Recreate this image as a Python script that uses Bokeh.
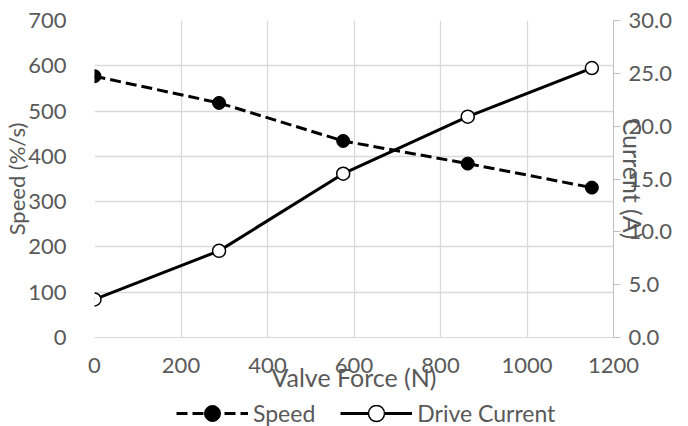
from bokeh.plotting import figure
from bokeh.layouts import column
from bokeh.models import (LinearAxis, Range1d, Legend, LegendItem,
                          FixedTicker, PrintfTickFormatter)
from bokeh.embed import file_html
from bokeh.resources import INLINE

force = [0, 288, 575, 863, 1150]
speed = [577, 518, 434, 384, 331]
current = [3.6, 8.2, 15.5, 20.9, 25.5]
x_ticks = [0, 200, 400, 600, 800, 1000, 1200]
speed_ticks = [0, 100, 200, 300, 400, 500, 600, 700]
current_ticks = [0, 5, 10, 15, 20, 25, 30]

FONT = "Lato"
GREY = "#595959"
GRID = "#d9d9d9"
TICK_SIZE = "22px"
TITLE_SIZE = "25px"
DASH = "11 5"

xr = Range1d(0, 1200)
p = figure(width=672, height=405, x_range=xr, y_range=Range1d(0, 700),
           output_backend="svg", toolbar_location=None,
           min_border_left=85, min_border_right=59, min_border_top=20, min_border_bottom=68)
p.outline_line_color = None
p.extra_y_ranges = {"cur": Range1d(0, 30)}

xa = p.xaxis[0]
xa.ticker = FixedTicker(ticks=x_ticks)
xa.axis_label = "Valve Force (N)"
xa.axis_line_color = GRID
xa.major_tick_line_color = None
xa.minor_tick_line_color = None
xa.major_label_standoff = 14
xa.axis_label_standoff = -14

ya = p.yaxis[0]
ya.ticker = FixedTicker(ticks=speed_ticks)
ya.axis_label = "Speed (%/s)"
ya.axis_line_color = None
ya.major_tick_line_color = None
ya.minor_tick_line_color = None
ya.major_label_standoff = 22
ya.axis_label_standoff = -5

ra = LinearAxis(y_range_name="cur", ticker=FixedTicker(ticks=current_ticks),
                formatter=PrintfTickFormatter(format="%.1f"))
ra.axis_label = "Current (A)"
ra.axis_line_color = "#bfbfbf"
ra.major_tick_line_color = "#bfbfbf"
ra.major_tick_out = 7
ra.major_tick_in = 0
ra.minor_tick_line_color = None
ra.major_label_standoff = 8
ra.axis_label_standoff = -57
p.add_layout(ra, "right")

for ax in (xa, ya, ra):
    ax.major_label_text_font = FONT
    ax.major_label_text_font_size = TICK_SIZE
    ax.major_label_text_color = GREY
    ax.axis_label_text_font = FONT
    ax.axis_label_text_font_size = TITLE_SIZE
    ax.axis_label_text_font_style = "normal"
    ax.axis_label_text_color = GREY
ya.axis_label_text_font_size = "22px"

p.xgrid.ticker = FixedTicker(ticks=x_ticks)
p.ygrid.ticker = FixedTicker(ticks=speed_ticks)
p.xgrid.grid_line_color = GRID
p.ygrid.grid_line_color = GRID
p.xgrid.grid_line_width = 1.3
p.ygrid.grid_line_width = 1.3

p.line(force, speed, line_color="black", line_width=3, line_dash=DASH)
p.scatter(force, speed, size=13, fill_color="black", line_color="black")
p.line(force, current, y_range_name="cur", line_color="black", line_width=3)
p.scatter(force, current, y_range_name="cur", size=13, fill_color="white",
          line_color="black", line_width=1.5)

# legend strip below the chart (series drawn outside this strip's view, used as keys only)
q = figure(width=672, height=21, x_range=xr, y_range=Range1d(-2, -1),
           output_backend="svg", toolbar_location=None,
           min_border_left=85, min_border_right=59, min_border_top=0, min_border_bottom=0)
q.axis.visible = False
q.grid.visible = False
q.outline_line_color = None
ql1 = q.line(force, speed, line_color="black", line_width=3, line_dash=DASH)
qs1 = q.scatter(force, speed, fill_color="black", line_color="black")
ql2 = q.line(force, current, line_color="black", line_width=3)
qs2 = q.scatter(force, current, fill_color="white", line_color="black", line_width=1.5)

legend = Legend(items=[LegendItem(label="Speed", renderers=[ql1, qs1]),
                       LegendItem(label="Drive Current", renderers=[ql2, qs2])],
                orientation="horizontal", location=(82, -7),
                label_text_font=FONT, label_text_font_size="23px", label_text_color=GREY,
                glyph_width=72, glyph_height=40, label_height=40, label_standoff=5,
                spacing=25, padding=0, margin=0, border_line_color=None,
                background_fill_alpha=0)
q.add_layout(legend)

open("out.html", "w").write(file_html(column(p, q, spacing=0), INLINE))
